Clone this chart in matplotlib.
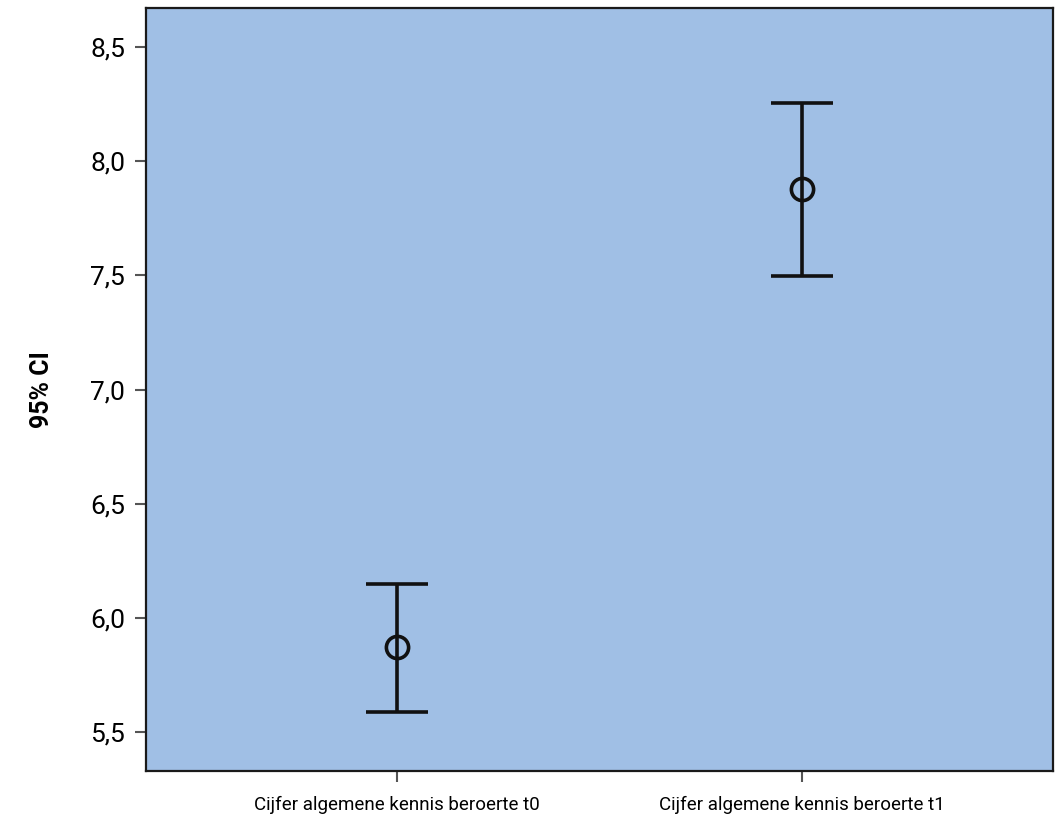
import matplotlib
matplotlib.use('Agg')
import matplotlib.pyplot as plt
from matplotlib.ticker import FuncFormatter

# gemiddelden en 95% betrouwbaarheidsinterval
categories = ['Cijfer algemene kennis beroerte t0', 'Cijfer algemene kennis beroerte t1']
means = [5.873, 7.877]
ci_lower = [5.589, 7.496]
ci_upper = [6.149, 8.254]

plt.rcParams['font.family'] = ['Roboto', 'DejaVu Sans']

fig = plt.figure(figsize=(10.6, 8.17), dpi=100)
ax = fig.add_axes([0.1377, 0.0563, 0.8557, 0.9339])
ax.set_facecolor('#A0BFE5')

x = list(range(len(categories)))
err_low = [m - l for m, l in zip(means, ci_lower)]
err_high = [u - m for m, u in zip(means, ci_upper)]
ax.errorbar(x, means, yerr=[err_low, err_high], fmt='o', color='#111111',
            markerfacecolor='none', markeredgecolor='#111111', markersize=16,
            markeredgewidth=2.6, elinewidth=2.6, capsize=22, capthick=2.6)

ax.set_xlim(-0.62, 1.62)
ax.set_ylim(5.329, 8.671)
ax.set_xticks(x)
ax.set_xticklabels(categories, fontsize=13.5)
ax.set_yticks([5.5, 6.0, 6.5, 7.0, 7.5, 8.0, 8.5])
ax.yaxis.set_major_formatter(FuncFormatter(lambda v, p: f'{v:.1f}'.replace('.', ',')))
ax.tick_params(axis='y', labelsize=19, length=8, width=1.5, color='#555555', pad=7)
ax.tick_params(axis='x', length=8, width=1.5, color='#555555', pad=10)
for s in ax.spines.values():
    s.set_linewidth(1.6)
    s.set_color('#1a1a1a')

ax.set_ylabel('95% CI', fontsize=18, fontweight='bold', labelpad=26)

fig.savefig('out.png', dpi=100)
